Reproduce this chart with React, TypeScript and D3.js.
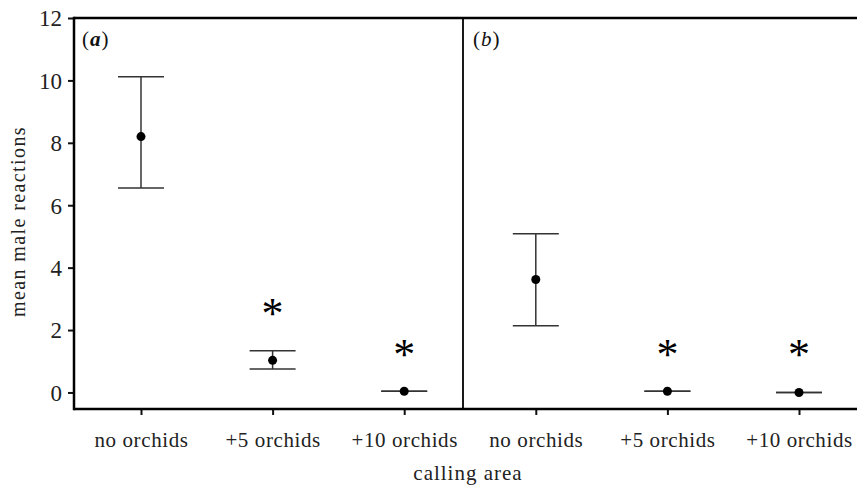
import { useEffect, useRef } from "react";
import * as d3 from "d3";

// categories along the x axis, two panels of three
const categories = ["no orchids", "+5 orchids", "+10 orchids"];
const panels = ["a", "b"];

// means and the ends of the error bars, panel (a) then (b)
const meanA = [8.2, 1.03, 0.04];
const upperA = [10.12, 1.34, 0.04];
const lowerA = [6.55, 0.75, 0.04];
const meanB = [3.62, 0.04, 0.0];
const upperB = [5.09, 0.04, 0.0];
const lowerB = [2.14, 0.04, 0.0];

// asterisk heights (significance marks)
const starA = [null, 2.7, 1.38];
const starB = [null, 1.38, 1.38];

const yTicks = [0, 2, 4, 6, 8, 10, 12];

const W = 857;
const H = 487;
const FONT = "Liberation Serif, Tinos, Times New Roman, DejaVu Serif, serif";

export default function App() {
  const svgRef = useRef<SVGSVGElement>(null);

  useEffect(() => {
    if (!svgRef.current) return;
    const svg = d3.select(svgRef.current);
    svg.selectAll("*").remove();

    const left = 74;
    const right = 857;
    const top = 18;
    const bottom = 409;
    const divider = 463;

    const y = d3.scaleLinear().domain([-0.53, 12]).range([bottom, top]);

    const keys = panels.flatMap((p) => categories.map((c) => `${p}|${c}`));
    const x = d3.scalePoint<string>().domain(keys).range([141, 799]);

    const rows = [
      ...categories.map((c, i) => ({ key: `a|${c}`, label: c, mean: meanA[i], hi: upperA[i], lo: lowerA[i], star: starA[i] })),
      ...categories.map((c, i) => ({ key: `b|${c}`, label: c, mean: meanB[i], hi: upperB[i], lo: lowerB[i], star: starB[i] })),
    ];

    // y axis
    const yAxis = svg.append("g")
      .attr("transform", `translate(${left},0)`)
      .call(d3.axisLeft(y).tickValues(yTicks).tickSize(6).tickSizeOuter(0).tickPadding(6));
    yAxis.attr("font-family", null).attr("font-size", null);
    yAxis.select(".domain").remove();
    yAxis.selectAll(".tick line").attr("stroke", "#111").attr("stroke-width", 2);
    yAxis.selectAll(".tick text")
      .style("font-family", FONT)
      .style("font-size", "23px")
      .attr("dy", "0.34em")
      .attr("fill", "#222");

    // x axis ticks and labels
    const xAxis = svg.append("g")
      .attr("transform", `translate(0,${bottom})`)
      .call(d3.axisBottom(x).tickSize(6).tickPadding(17).tickFormat((d) => d.split("|")[1]));
    xAxis.attr("font-family", null).attr("font-size", null);
    xAxis.select(".domain").remove();
    xAxis.selectAll(".tick line").attr("stroke", "#111").attr("stroke-width", 2);
    xAxis.selectAll(".tick text")
      .style("font-family", FONT)
      .style("font-size", "21px")
      .style("letter-spacing", "0.6px")
      .attr("fill", "#222");

    // frame lines
    const frame = svg.append("g").attr("stroke", "#000").attr("fill", "none");
    frame.append("line").attr("x1", left).attr("x2", left).attr("y1", top - 1.25).attr("y2", bottom + 1.25).attr("stroke-width", 2.5);
    frame.append("line").attr("x1", left).attr("x2", right).attr("y1", top).attr("y2", top).attr("stroke-width", 2.5);
    frame.append("line").attr("x1", left).attr("x2", right).attr("y1", bottom).attr("y2", bottom).attr("stroke-width", 2.5);
    frame.append("line").attr("x1", divider).attr("x2", divider).attr("y1", top).attr("y2", bottom).attr("stroke-width", 1.8);

    // error bars
    const capW = 23;
    const g = svg.append("g");
    const bars = g.selectAll("g.bar").data(rows).enter().append("g").attr("class", "bar");
    bars.append("line")
      .attr("x1", (d) => x(d.key)!).attr("x2", (d) => x(d.key)!)
      .attr("y1", (d) => y(d.hi)).attr("y2", (d) => y(d.lo))
      .attr("stroke", "#333").attr("stroke-width", 1.5);
    bars.append("line")
      .attr("x1", (d) => x(d.key)! - capW).attr("x2", (d) => x(d.key)! + capW)
      .attr("y1", (d) => y(d.hi)).attr("y2", (d) => y(d.hi))
      .attr("stroke", "#333").attr("stroke-width", 1.5);
    bars.append("line")
      .attr("x1", (d) => x(d.key)! - capW).attr("x2", (d) => x(d.key)! + capW)
      .attr("y1", (d) => y(d.lo)).attr("y2", (d) => y(d.lo))
      .attr("stroke", "#333").attr("stroke-width", 1.5);
    bars.append("circle")
      .attr("cx", (d) => x(d.key)!)
      .attr("cy", (d) => y(d.mean))
      .attr("r", 4.5)
      .attr("fill", "#000");

    // significance asterisks
    g.selectAll("text.star").data(rows.filter((d) => d.star !== null)).enter()
      .append("text")
      .attr("class", "star")
      .attr("x", (d) => x(d.key)!)
      .attr("y", (d) => y(d.star as number) + 20)
      .attr("text-anchor", "middle")
      .style("font-family", FONT)
      .style("font-size", "44px")
      .attr("fill", "#000")
      .text("*");

    // panel letters
    const pa = svg.append("text").attr("x", 82).attr("y", 46).style("font-family", FONT).style("font-size", "21px").style("letter-spacing", "1px").attr("fill", "#111");
    pa.append("tspan").text("(");
    pa.append("tspan").attr("font-weight", "bold").attr("font-style", "italic").text("a");
    pa.append("tspan").text(")");
    const pb = svg.append("text").attr("x", 473).attr("y", 46).style("font-family", FONT).style("font-size", "21px").style("letter-spacing", "1px").attr("fill", "#111");
    pb.append("tspan").text("(");
    pb.append("tspan").attr("font-style", "italic").text("b");
    pb.append("tspan").text(")");

    // axis titles
    svg.append("text")
      .attr("transform", `translate(25,${(top + bottom) / 2 + 8}) rotate(-90)`)
      .attr("text-anchor", "middle")
      .style("font-family", FONT)
      .style("font-size", "20px")
      .style("letter-spacing", "1.4px")
      .attr("fill", "#222")
      .text("mean male reactions");
    svg.append("text")
      .attr("x", 468)
      .attr("y", 480)
      .attr("text-anchor", "middle")
      .style("font-family", FONT)
      .style("font-size", "21px")
      .style("letter-spacing", "1px")
      .attr("fill", "#222")
      .text("calling area");
  }, []);

  return (
    <svg
      ref={svgRef}
      width={W}
      height={H}
      style={{ position: "absolute", left: 0, top: 0, background: "#fff" }}
    />
  );
}
